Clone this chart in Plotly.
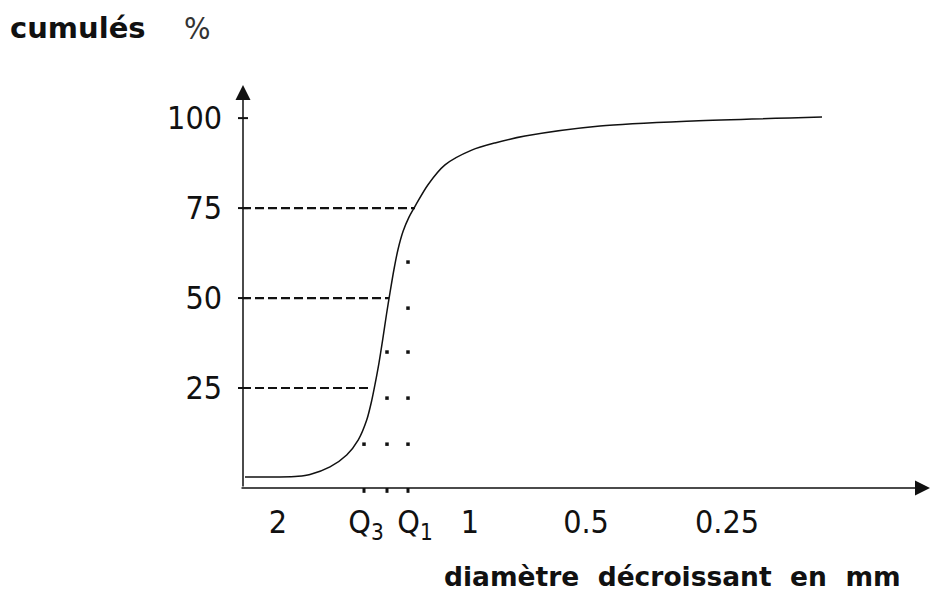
import plotly.graph_objects as go

# ---- data (schematic axis units: horizontal position along the axis) ----
curve_x = [2, 37, 55, 67, 87, 103.7, 115.3, 123.7, 128.7, 132, 136, 140, 143.5, 147,
           151, 155, 160, 166, 172, 185, 202, 228.7, 252, 282, 357, 450, 579]
curve_y = [0.3, 0.3, 0.5, 1.0, 3.1, 6.4, 10.6, 16.1, 21.5, 26, 32, 39, 45.5, 51.5,
           58, 63.5, 68.5, 72.5, 75.5, 81.5, 87, 91.1, 93.1, 95, 97.8, 99.2, 100.3]

y_ticks = [25, 50, 75, 100]
quartile_levels = [25, 50, 75]
quartile_curve_x = [125, 146, 172]          # where dashed lines stop at the curve

x_tick_pos = [35, 123, 172, 227, 343, 484]
x_tick_text = ["2", "Q<sub>3</sub>", "Q<sub>1</sub>", "1", "0.5", "0.25"]

q_x = [121, 144, 165]                        # Q3, median, Q1 positions
dots_q3 = [9.4]
dots_q2 = [9.4, 22.2, 35]
dots_q1 = [9.4, 22.2, 35, 47.2, 60]

X_MIN, X_MAX = -5, 687
Y_MIN, Y_MAX = -2.78, 109.2

NUM_FONT = "DejaVu Sans Condensed, DejaVu Sans, sans-serif"
BOLD_FONT = "DejaVu Sans, Verdana, sans-serif"

fig = go.Figure()

fig.add_trace(go.Scatter(x=curve_x, y=curve_y, mode="lines",
                         line=dict(color="#111", width=1.5, shape="spline", smoothing=0.8),
                         hoverinfo="skip", showlegend=False))

dot_x = [q_x[0]] * len(dots_q3) + [q_x[1]] * len(dots_q2) + [q_x[2]] * len(dots_q1)
dot_y = dots_q3 + dots_q2 + dots_q1
fig.add_trace(go.Scatter(x=dot_x, y=dot_y, mode="markers",
                         marker=dict(symbol="square", size=3.5, color="#111", line=dict(width=0)),
                         hoverinfo="skip", showlegend=False))

shapes = []
for lvl, cx in zip(quartile_levels, quartile_curve_x):
    shapes.append(dict(type="line", xref="x", yref="y", x0=-1, x1=cx, y0=lvl, y1=lvl,
                       line=dict(color="#111", width=2.2, dash="9px,4px")))
for t in y_ticks:
    shapes.append(dict(type="line", xref="x", yref="y", x0=-5, x1=5, y0=t, y1=t,
                       line=dict(color="#111", width=2)))
for qx in q_x:
    shapes.append(dict(type="line", xref="x", yref="paper", x0=qx, x1=qx, y0=0, y1=-0.012,
                       line=dict(color="#111", width=3)))

annotations = [
    dict(x=0, y=Y_MAX, ax=0, ay=Y_MIN, xref="x", yref="y", axref="x", ayref="y",
         showarrow=True, arrowhead=2, arrowsize=2, arrowwidth=1.5, arrowcolor="#111", text=""),
    dict(x=X_MAX, y=Y_MIN, ax=-3, ay=Y_MIN, xref="x", yref="y", axref="x", ayref="y",
         showarrow=True, arrowhead=2, arrowsize=2, arrowwidth=1.5, arrowcolor="#111", text=""),
    dict(x=-0.2312, y=1.1414, xref="paper", yref="paper", text="<b>cumulés</b>", showarrow=False,
         font=dict(family=BOLD_FONT, size=29, color="#111"), xanchor="center", yanchor="middle"),
    dict(x=-0.0592, y=1.1414, xref="paper", yref="paper", text="%", showarrow=False,
         font=dict(family=NUM_FONT, size=31, color="#333"), xanchor="center", yanchor="middle"),
    dict(x=0.6286, y=-0.2208, xref="paper", yref="paper",
         text="<b>diamètre\u00a0 décroissant\u00a0 en\u00a0 mm</b>", showarrow=False,
         font=dict(family=BOLD_FONT, size=26.5, color="#111"), xanchor="center", yanchor="middle"),
]

fig.update_layout(
    width=938, height=584,
    margin=dict(l=230, r=16, t=77, b=104),
    paper_bgcolor="white", plot_bgcolor="white",
    shapes=shapes, annotations=annotations,
    xaxis=dict(range=[X_MIN, X_MAX], showgrid=False, zeroline=False, showline=False,
               tickmode="array", tickvals=x_tick_pos, ticktext=x_tick_text, ticks="",
               ticklabelstandoff=12, automargin=False,
               tickfont=dict(family=NUM_FONT, size=32, color="#111")),
    yaxis=dict(range=[Y_MIN, Y_MAX], showgrid=False, zeroline=False, showline=False,
               tickmode="array", tickvals=y_ticks, ticks="", ticklabelstandoff=15,
               automargin=False,
               tickfont=dict(family=NUM_FONT, size=32, color="#111")),
)

fig.write_html("out.html")
